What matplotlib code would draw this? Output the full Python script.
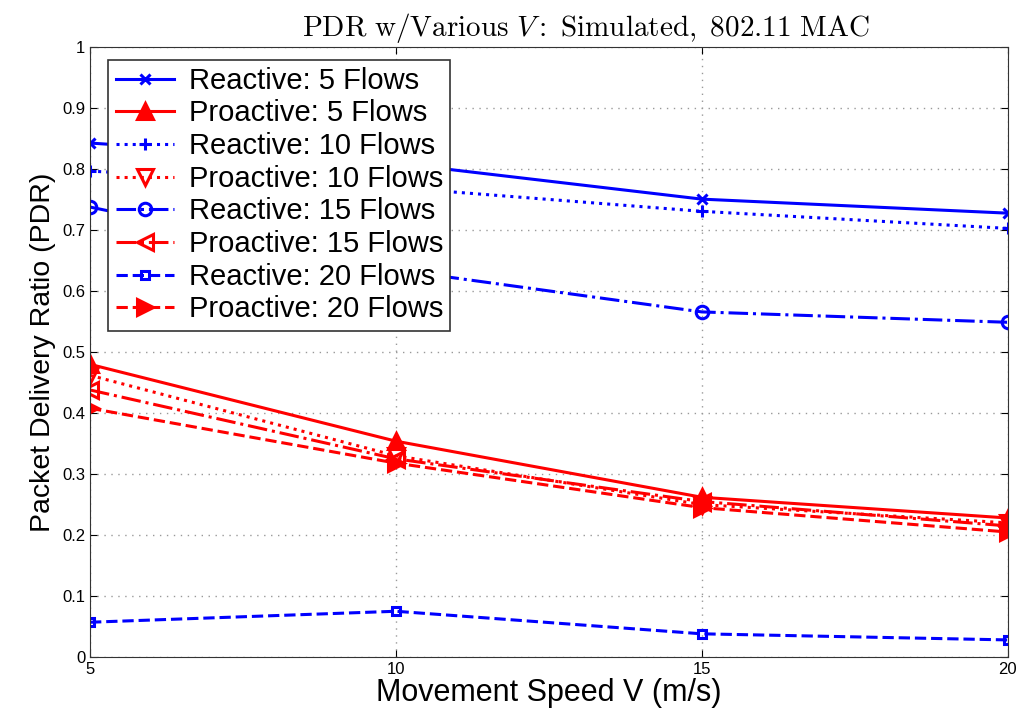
import numpy as np
import matplotlib.pyplot as plt

plt.rcParams['font.family'] = ['Liberation Sans', 'DejaVu Sans']
plt.rcParams['mathtext.fontset'] = 'cm'

# datos
speed = [5, 10, 15, 20]
reactive_5 = [0.843, 0.81, 0.751, 0.728]
proactive_5 = [0.48, 0.354, 0.262, 0.228]
reactive_10 = [0.797, 0.77, 0.731, 0.703]
proactive_10 = [0.462, 0.33, 0.25, 0.22]
reactive_15 = [0.738, 0.635, 0.566, 0.549]
proactive_15 = [0.438, 0.325, 0.255, 0.215]
reactive_20 = [0.057, 0.075, 0.038, 0.028]
proactive_20 = [0.408, 0.318, 0.245, 0.205]

labels = ['Reactive: 5 Flows', 'Proactive: 5 Flows', 'Reactive: 10 Flows', 'Proactive: 10 Flows',
          'Reactive: 15 Flows', 'Proactive: 15 Flows', 'Reactive: 20 Flows', 'Proactive: 20 Flows']
series = [reactive_5, proactive_5, reactive_10, proactive_10,
          reactive_15, proactive_15, reactive_20, proactive_20]
colors = ['#0000ff', '#ff0000'] * 4
styles = ['-', '-', ':', ':', '-.', '-.', '--', '--']
markers = ['x', '^', '+', 'v', 'o', '<', 's', '>']
msizes = [7, 11, 9, 11, 9, 11, 6, 11]

fig = plt.figure(figsize=(10.23, 7.17), dpi=100)
ax = fig.add_axes([0.088, 0.0837, 0.897, 0.8503])

for y, lab, c, ls, m, ms in zip(series, labels, colors, styles, markers, msizes):
    fill = 'none' if m in ('o', 'v', '<', 's') else c
    ax.plot(speed, y, color=c, linestyle=ls, marker=m, markersize=ms, linewidth=2.2,
            markeredgewidth=2.2, markerfacecolor=fill, label=lab)

ax.set_xlim(5, 20)
ax.set_ylim(0, 1)
ax.set_xticks([5, 10, 15, 20])
yt = np.arange(0, 11) / 10
ax.set_yticks(yt)
ax.set_yticklabels(['0'] + ['%.1f' % v for v in yt[1:-1]] + ['1'])
ax.tick_params(direction='in', labelsize=12, top=True, right=True, length=5)
ax.grid(True, linestyle=(0, (1, 4)), color='#999999', linewidth=1)
for s in ax.spines.values():
    s.set_color('#333333')

ax.set_xlabel('Movement Speed V (m/s)', fontsize=22, labelpad=1)
ax.set_ylabel('Packet Delivery Ratio (PDR)', fontsize=20.5, labelpad=4)
ax.set_title(r'$\mathrm{PDR\ w/Various}\ V\mathrm{:\ Simulated,\ 802.11\ MAC}$', fontsize=21,
             pad=8, x=0.54)

leg = ax.legend(loc='upper left', bbox_to_anchor=(0.02, 0.98), fontsize=21, labelspacing=0.16,
                handlelength=2.0, handletextpad=0.5, borderpad=0.25, borderaxespad=0,
                fancybox=False, edgecolor='#333333', framealpha=1)
leg.get_frame().set_linewidth(1.2)

plt.savefig('out.png', dpi=100)
